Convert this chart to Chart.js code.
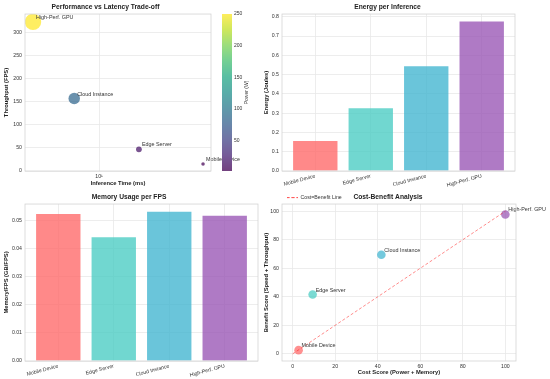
<!DOCTYPE html>
<html>
<head>
<meta charset="utf-8">
<script src="https://cdn.jsdelivr.net/npm/chart.js@4.4.1/dist/chart.umd.min.js"></script>
<style>
  html, body { margin: 0; padding: 0; background: #fff; }
  #page { position: relative; width: 550px; height: 379px; overflow: hidden; background: #fff; }
  #page canvas { position: absolute; }
</style>
</head>
<body>
<div id="page">
  <canvas id="perf" width="260" height="190" style="left:0;top:0"></canvas>
  <canvas id="cbar" width="40" height="190" style="left:215px;top:0"></canvas>
  <canvas id="energy" width="290" height="190" style="left:260px;top:0"></canvas>
  <canvas id="mem" width="275" height="189" style="left:0;top:190px"></canvas>
  <canvas id="cost" width="290" height="189" style="left:260px;top:190px"></canvas>
</div>
<script>
//? DATA
const devices = ['Mobile Device', 'Edge Server', 'Cloud Instance', 'High-Perf. GPU'];
const inferenceMs = [65, 20.5, 6.4, 3.05];
const throughputFps = [15, 47, 157, 323];
const powerW = [2.4, 16, 85, 250];
const memoryGb = [0.78, 2.1, 8.3, 16.7];
const energyJ = [0.155, 0.325, 0.543, 0.775];
const memPerFps = [0.0523, 0.044, 0.0531, 0.0516];
const costScore = [2.8, 9.4, 41.7, 100];
const benefitScore = [2.6, 41.6, 69.5, 97.7];

//? TICKS
const fpsTicks = [0, 50, 100, 150, 200, 250, 300];
const latencyTicks = [10];
const powerTicks = [50, 100, 150, 200, 250];
const energyTicks = [0, 0.1, 0.2, 0.3, 0.4, 0.5, 0.6, 0.7, 0.8];
const memTicks = [0, 0.01, 0.02, 0.03, 0.04, 0.05];
const scoreTicks = [0, 20, 40, 60, 80, 100];

//? STYLE
const deviceColors = ['#FF6B6B', '#4ECDC4', '#45B7D1', '#9B59B6'];
const VIRIDIS = ['#440154', '#482475', '#414487', '#355f8d', '#2a788e', '#21918c',
                 '#22a884', '#44bf70', '#7ad151', '#bddf26', '#fde725'];
const GRID = { color: '#e9e9e9', lineWidth: 0.8, drawTicks: false };
const FONT = "'Liberation Sans', Arial, sans-serif";

Chart.defaults.font.family = FONT;
Chart.defaults.font.size = 5.2;
Chart.defaults.color = '#333';

function hexRgb(h) {
    return [1, 3, 5].map(i => parseInt(h.slice(i, i + 2), 16));
}
function rgba(h, a) {
    const [r, g, b] = hexRgb(h);
    return `rgba(${r},${g},${b},${a})`;
}
// same colour as rgba(h, a) over white, but opaque
function onWhite(h, a) {
    const c = hexRgb(h).map(v => Math.round(v * a + 255 * (1 - a)));
    return `rgb(${c[0]},${c[1]},${c[2]})`;
}
function viridis(t, a) {
    t = Math.max(0, Math.min(1, t));
    const p = t * (VIRIDIS.length - 1);
    const i = Math.min(Math.floor(p), VIRIDIS.length - 2);
    const f = p - i;
    const c0 = hexRgb(VIRIDIS[i]), c1 = hexRgb(VIRIDIS[i + 1]);
    const c = c0.map((v, k) => Math.round(v + (c1[k] - v) * f));
    return `rgba(${c[0]},${c[1]},${c[2]},${a})`;
}
const pMin = Math.min(...powerW), pMax = Math.max(...powerW);
const normPower = p => (p - pMin) / (pMax - pMin);

// fixed axis sizes so the plot boxes land where the reference has them
const fixW = w => s => { s.width = w; };
const fixH = h => s => { s.height = h; };
const useTicks = list => s => { s.ticks = list.map(v => ({ value: v })); };

function titleOpt(text) {
    return {
        display: true, text,
        color: '#222',
        font: { size: 6.7, weight: 'bold' },
        padding: { top: 3, bottom: 3 }
    };
}
function axisTitle(text) {
    return { display: true, text, color: '#222', font: { size: 5.8, weight: 'bold' }, padding: { top: 3, bottom: 3 } };
}

//? PLUGINS
// light grey frame round each plot (whitegrid spines)
Chart.register({
    id: 'frame',
    afterDraw(chart) {
        const a = chart.chartArea, ctx = chart.ctx;
        ctx.save();
        ctx.strokeStyle = '#d4d4d4';
        ctx.lineWidth = 0.8;
        ctx.strokeRect(a.left, a.top, a.right - a.left, a.bottom - a.top);
        ctx.restore();
    }
});

// device names next to the points
Chart.register({
    id: 'pointLabels',
    defaults: { names: null, dataset: 0 },
    afterDatasetsDraw(chart, args, opts) {
        if (!opts.names) return;
        const ctx = chart.ctx;
        const meta = chart.getDatasetMeta(opts.dataset);
        ctx.save();
        ctx.font = `5.4px ${FONT}`;
        ctx.fillStyle = '#333';
        ctx.textAlign = 'left';
        ctx.textBaseline = 'alphabetic';
        meta.data.forEach((pt, i) => ctx.fillText(opts.names[i], pt.x + 3, pt.y - 3));
        ctx.restore();
    }
});

const noLegend = { legend: { display: false }, tooltip: { enabled: false } };

//? 1. PERFORMANCE VS LATENCY
new Chart(document.getElementById('perf'), {
    type: 'scatter',
    data: {
        datasets: [{
            data: inferenceMs.map((x, i) => ({ x, y: throughputFps[i] })),
            backgroundColor: ctx => viridis(normPower(powerW[ctx.dataIndex]), 0.72),
            borderWidth: 0,
            pointRadius: ctx => 2 * Math.sqrt(memoryGb[ctx.dataIndex]),
            pointHoverRadius: ctx => 2 * Math.sqrt(memoryGb[ctx.dataIndex])
        }]
    },
    options: {
        responsive: false, animation: false,
        layout: { padding: { left: 0, right: 49, top: 0, bottom: 0 } },
        plugins: { ...noLegend, title: titleOpt('Performance vs Latency Trade-off'), pointLabels: { names: devices } },
        scales: {
            x: {
                type: 'logarithmic', min: 2.64, max: 75,
                afterBuildTicks: useTicks(latencyTicks),
                ticks: { callback: v => (v === 10 ? '10\u00B9' : ''), padding: 2, maxRotation: 0 },
                grid: GRID, border: { display: false },
                title: axisTitle('Inference Time (ms)'),
                afterFit: fixH(19)
            },
            y: {
                min: 0, max: 340,
                afterBuildTicks: useTicks(fpsTicks),
                ticks: { padding: 3 },
                grid: GRID, border: { display: false },
                title: axisTitle('Throughput (FPS)'),
                afterFit: fixW(25)
            }
        }
    }
});

//? colour bar for power (opaque, so it hides text running under it)
Chart.register({
    id: 'cbarLabel',
    defaults: { text: null },
    afterDraw(chart, args, opts) {
        if (!opts.text) return;
        const a = chart.chartArea, ctx = chart.ctx;
        ctx.save();
        ctx.translate(a.right + 15, (a.top + a.bottom) / 2);
        ctx.rotate(-Math.PI / 2);
        ctx.font = `5px ${FONT}`;
        ctx.fillStyle = '#333';
        ctx.textAlign = 'center';
        ctx.textBaseline = 'middle';
        ctx.fillText(opts.text, 0, 0);
        ctx.restore();
    }
});

new Chart(document.getElementById('cbar'), {
    type: 'bar',
    data: {
        labels: [''],
        datasets: [{
            data: [[pMin, pMax]],
            barPercentage: 1, categoryPercentage: 1, borderWidth: 0,
            backgroundColor: ctx => {
                const a = ctx.chart.chartArea;
                if (!a) return 'rgba(0,0,0,0)';
                const g = ctx.chart.ctx.createLinearGradient(0, a.bottom, 0, a.top);
                VIRIDIS.forEach((c, k) => g.addColorStop(k / (VIRIDIS.length - 1), onWhite(c, 0.75)));
                return g;
            }
        }]
    },
    options: {
        responsive: false, animation: false,
        layout: { padding: { left: 7, right: 0, top: 14, bottom: 19 } },
        plugins: { ...noLegend, frame: false, cbarLabel: { text: 'Power (W)' } },
        scales: {
            x: { display: false },
            y: {
                position: 'right', min: pMin, max: pMax,
                afterBuildTicks: useTicks(powerTicks),
                ticks: { padding: 2, font: { size: 5 } },
                grid: { display: false, drawTicks: false }, border: { display: false },
                afterFit: fixW(23)
            }
        }
    }
});

//? bar panels share the same shape
function barPanel(id, title, values, yMax, yTicks, digits, yTitle, padRight, xH, yW) {
    return new Chart(document.getElementById(id), {
        type: 'bar',
        data: {
            datasets: [{
                data: values.map((v, i) => ({ x: i, y: v })),
                backgroundColor: deviceColors.map(c => rgba(c, 0.8)),
                borderWidth: 0, barPercentage: 0.8, categoryPercentage: 1
            }]
        },
        options: {
            responsive: false, animation: false,
            layout: { padding: { left: 0, right: padRight, top: 0, bottom: 0 } },
            plugins: { ...noLegend, title: titleOpt(title) },
            scales: {
                x: {
                    type: 'linear', min: -0.6, max: 3.6, offset: false,
                    afterBuildTicks: useTicks(devices.map((d, i) => i)),
                    ticks: { callback: v => devices[v], autoSkip: false, minRotation: 15, maxRotation: 15, padding: 2 },
                    grid: { ...GRID, offset: false }, border: { display: false },
                    afterFit: fixH(xH)
                },
                y: {
                    min: 0, max: yMax,
                    afterBuildTicks: useTicks(yTicks),
                    ticks: { padding: 3, callback: v => v.toFixed(digits) },
                    grid: GRID, border: { display: false },
                    title: axisTitle(yTitle),
                    afterFit: fixW(yW)
                }
            }
        }
    });
}

//? 2. ENERGY PER INFERENCE
barPanel('energy', 'Energy per Inference', energyJ, 0.814, energyTicks, 1, 'Energy (Joules)', 35, 19, 22);

//? 3. MEMORY PER FPS
barPanel('mem', 'Memory Usage per FPS', memPerFps, 0.0558, memTicks, 2, 'Memory/FPS (GB/FPS)', 17, 18, 25);

//? 4. COST-BENEFIT
new Chart(document.getElementById('cost'), {
    type: 'scatter',
    data: {
        datasets: [
            {
                type: 'line', label: 'Cost=Benefit Line',
                data: [{ x: 0, y: 0 }, { x: 100, y: 100 }],
                borderColor: 'rgba(255,0,0,0.5)', backgroundColor: 'rgba(0,0,0,0)',
                borderDash: [3, 2], borderWidth: 0.9, pointRadius: 0, fill: false
            },
            {
                label: 'devices',
                data: costScore.map((x, i) => ({ x, y: benefitScore[i] })),
                backgroundColor: deviceColors.map(c => rgba(c, 0.75)),
                borderWidth: 0, pointRadius: 4.3, pointHoverRadius: 4.3
            }
        ]
    },
    options: {
        responsive: false, animation: false,
        layout: { padding: { left: 0, right: 34, top: 0, bottom: 0 } },
        plugins: {
            tooltip: { enabled: false },
            title: titleOpt('Cost-Benefit Analysis'),
            pointLabels: { names: devices, dataset: 1 },
            legend: {
                position: 'chartArea', align: 'start',
                labels: {
                    boxWidth: 11, boxHeight: 0, padding: 5,
                    font: { size: 5.2 }, color: '#333',
                    filter: item => item.datasetIndex === 0
                }
            }
        },
        scales: {
            x: {
                type: 'linear', min: -5, max: 105,
                afterBuildTicks: useTicks(scoreTicks),
                ticks: { padding: 2 },
                grid: GRID, border: { display: false },
                title: axisTitle('Cost Score (Power + Memory)'),
                afterFit: fixH(18)
            },
            y: {
                min: -5, max: 105,
                afterBuildTicks: useTicks(scoreTicks),
                ticks: { padding: 3 },
                grid: GRID, border: { display: false },
                title: axisTitle('Benefit Score (Speed + Throughput)'),
                afterFit: fixW(22)
            }
        }
    }
});
</script>
</body>
</html>
